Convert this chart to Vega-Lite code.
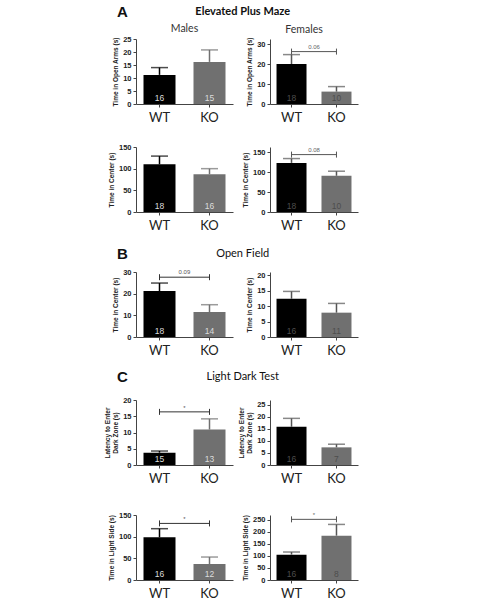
{
  "$schema": "https://vega.github.io/schema/vega-lite/v6.json",
  "padding": {"left": 5, "top": 5, "right": 5, "bottom": 2},
  "background": "white",
  "title": {"text": "Fig. 5 (See legend on next page.)", "orient": "bottom", "anchor": "start", "frame": "group", "dx": -131, "offset": 20, "fontSize": 7, "font": "Lato", "color": "#777", "fontWeight": "normal"},
  "columns": 2,
  "bounds": "flush",
  "spacing": {"row": 10, "column": 37},
  "concat": [
    {
      "width": 97, "height": 17,
      "data": {"values": [{"letter": "A", "name": "Elevated Plus Maze"}]},
      "layer": [
        {"mark": {"type": "text", "font": "Liberation Sans", "fontSize": 15, "fontWeight": "bold", "color": "#111", "baseline": "middle"},
         "encoding": {"x": {"datum": -0.14, "type": "quantitative", "scale": {"domain": [0, 1]}, "axis": null}, "y": {"datum": 1, "type": "quantitative", "scale": {"domain": [0, 1]}, "axis": null}, "text": {"field": "letter"}}},
        {"mark": {"type": "text", "font": "Lato", "fontSize": 11, "fontWeight": "bold", "color": "#111", "baseline": "middle"},
         "encoding": {"x": {"datum": 1.1, "type": "quantitative", "axis": null}, "y": {"datum": 1, "type": "quantitative", "axis": null}, "text": {"field": "name"}}}
      ]
    },
    {"width": 88, "height": 1, "data": {"values": []}, "mark": "point"},
    {
      "width": 97, "height": 65, "title": {"text": "Males"},
      "data": {"values": [{"g": "WT", "mean": 11.2, "upper": 14.0, "n": "16"}, {"g": "KO", "mean": 16.2, "upper": 20.8, "n": "15"}]},
      "encoding": {"x": {"field": "g", "type": "nominal", "sort": ["WT", "KO"], "scale": {"paddingInner": 0.36, "paddingOuter": 0.15}, "axis": {"title": null, "labelAngle": 0}}},
      "layer": [
        {"mark": {"type": "bar"}, "encoding": {"y": {"field": "mean", "type": "quantitative", "scale": {"domain": [0, 25], "nice": false}, "axis": {"title": "Time in Open Arms (s)", "values": [0, 5, 10, 15, 20, 25], "tickCount": 6}}, "color": {"field": "g", "type": "nominal", "scale": {"domain": ["WT", "KO"], "range": ["#000000", "#707070"]}, "legend": null}}},
        {"mark": {"type": "rule", "strokeWidth": 1.5}, "encoding": {"y": {"field": "mean", "type": "quantitative"}, "y2": {"field": "upper"}, "color": {"field": "g", "type": "nominal", "legend": null}}},
        {"mark": {"type": "tick", "thickness": 1.5, "size": 17}, "encoding": {"y": {"field": "upper", "type": "quantitative"}, "color": {"field": "g", "type": "nominal", "legend": null}}},
        {"mark": {"type": "text", "baseline": "bottom", "dy": -1.5, "fontSize": 8.5, "font": "Liberation Sans", "color": "#dcdcdc"}, "encoding": {"y": {"datum": 0, "type": "quantitative"}, "text": {"field": "n"}}}
      ]
    },
    {
      "width": 88, "height": 65, "title": {"text": "Females", "dx": -10},
      "data": {"values": [{"g": "WT", "mean": 20.0, "upper": 24.7, "n": "18"}, {"g": "KO", "mean": 6.2, "upper": 8.7, "n": "10"}]},
      "encoding": {"x": {"field": "g", "type": "nominal", "sort": ["WT", "KO"], "scale": {"paddingInner": 0.333, "paddingOuter": 0.145}, "axis": {"title": null, "labelAngle": 0}}},
      "layer": [
        {"mark": {"type": "bar"}, "encoding": {"y": {"field": "mean", "type": "quantitative", "scale": {"domain": [0, 32.5], "nice": false}, "axis": {"title": "Time in Open Arms (s)", "values": [0, 10, 20, 30], "tickCount": 4}}, "color": {"field": "g", "type": "nominal", "scale": {"domain": ["WT", "KO"], "range": ["#c8c8c8", "#8c8c8c"]}, "legend": null}}},
        {"mark": {"type": "rule", "strokeWidth": 1.5, "color": "#555"}, "encoding": {"y": {"field": "mean", "type": "quantitative"}, "y2": {"field": "upper"}}},
        {"mark": {"type": "tick", "thickness": 1.5, "size": 17, "color": "#555"}, "encoding": {"y": {"field": "upper", "type": "quantitative"}}},
        {"mark": {"type": "text", "baseline": "bottom", "dy": -1.5, "fontSize": 8.5, "font": "Liberation Sans", "color": "#4d4d4d"}, "encoding": {"y": {"datum": 0, "type": "quantitative"}, "text": {"field": "n"}}},
        {"data": {"values": [{"g": "WT", "level": 26.2}, {"g": "KO", "level": 26.2}]}, "mark": {"type": "line", "color": "#555", "strokeWidth": 1}, "encoding": {"y": {"field": "level", "type": "quantitative"}}},
        {"data": {"values": [{"g": "WT", "level": 26.2}, {"g": "KO", "level": 26.2}]}, "mark": {"type": "point", "shape": "M0,-1L0,1", "size": 36, "filled": false, "color": "#555", "strokeWidth": 1, "opacity": 1}, "encoding": {"y": {"field": "level", "type": "quantitative"}}},
        {"data": {"values": [{"g": "WT", "level": 26.2, "label": "0.06"}]}, "mark": {"type": "text", "fontSize": 6, "font": "Liberation Sans", "color": "#666", "baseline": "bottom", "dy": -2}, "encoding": {"x": {"field": "g", "type": "nominal", "bandPosition": 1.25}, "y": {"field": "level", "type": "quantitative"}, "text": {"field": "label"}}}
      ]
    },
    {"width": 97, "height": 23, "data": {"values": []}, "mark": "point"},
    {"width": 88, "height": 1, "data": {"values": []}, "mark": "point"},
    {
      "width": 97, "height": 65,
      "data": {"values": [{"g": "WT", "mean": 110, "upper": 129, "n": "18"}, {"g": "KO", "mean": 87, "upper": 100, "n": "16"}]},
      "encoding": {"x": {"field": "g", "type": "nominal", "sort": ["WT", "KO"], "scale": {"paddingInner": 0.36, "paddingOuter": 0.15}, "axis": {"title": null, "labelAngle": 0}}},
      "layer": [
        {"mark": {"type": "bar"}, "encoding": {"y": {"field": "mean", "type": "quantitative", "scale": {"domain": [0, 150], "nice": false}, "axis": {"title": "Time in Center  (s)", "values": [0, 50, 100, 150], "tickCount": 4}}, "color": {"field": "g", "type": "nominal", "scale": {"domain": ["WT", "KO"], "range": ["#000000", "#707070"]}, "legend": null}}},
        {"mark": {"type": "rule", "strokeWidth": 1.5}, "encoding": {"y": {"field": "mean", "type": "quantitative"}, "y2": {"field": "upper"}, "color": {"field": "g", "type": "nominal", "legend": null}}},
        {"mark": {"type": "tick", "thickness": 1.5, "size": 17}, "encoding": {"y": {"field": "upper", "type": "quantitative"}, "color": {"field": "g", "type": "nominal", "legend": null}}},
        {"mark": {"type": "text", "baseline": "bottom", "dy": -1.5, "fontSize": 8.5, "font": "Liberation Sans", "color": "#dcdcdc"}, "encoding": {"y": {"datum": 0, "type": "quantitative"}, "text": {"field": "n"}}}
      ]
    },
    {
      "width": 88, "height": 65,
      "data": {"values": [{"g": "WT", "mean": 122.8, "upper": 133.6, "n": "18"}, {"g": "KO", "mean": 90.6, "upper": 102, "n": "10"}]},
      "encoding": {"x": {"field": "g", "type": "nominal", "sort": ["WT", "KO"], "scale": {"paddingInner": 0.333, "paddingOuter": 0.145}, "axis": {"title": null, "labelAngle": 0}}},
      "layer": [
        {"mark": {"type": "bar"}, "encoding": {"y": {"field": "mean", "type": "quantitative", "scale": {"domain": [0, 162.5], "nice": false}, "axis": {"title": "Time in Center  (s)", "values": [0, 50, 100, 150], "tickCount": 4}}, "color": {"field": "g", "type": "nominal", "scale": {"domain": ["WT", "KO"], "range": ["#c8c8c8", "#8c8c8c"]}, "legend": null}}},
        {"mark": {"type": "rule", "strokeWidth": 1.5, "color": "#555"}, "encoding": {"y": {"field": "mean", "type": "quantitative"}, "y2": {"field": "upper"}}},
        {"mark": {"type": "tick", "thickness": 1.5, "size": 17, "color": "#555"}, "encoding": {"y": {"field": "upper", "type": "quantitative"}}},
        {"mark": {"type": "text", "baseline": "bottom", "dy": -1.5, "fontSize": 8.5, "font": "Liberation Sans", "color": "#4d4d4d"}, "encoding": {"y": {"datum": 0, "type": "quantitative"}, "text": {"field": "n"}}},
        {"data": {"values": [{"g": "WT", "level": 143.5}, {"g": "KO", "level": 143.5}]}, "mark": {"type": "line", "color": "#555", "strokeWidth": 1}, "encoding": {"y": {"field": "level", "type": "quantitative"}}},
        {"data": {"values": [{"g": "WT", "level": 143.5}, {"g": "KO", "level": 143.5}]}, "mark": {"type": "point", "shape": "M0,-1L0,1", "size": 36, "filled": false, "color": "#555", "strokeWidth": 1, "opacity": 1}, "encoding": {"y": {"field": "level", "type": "quantitative"}}},
        {"data": {"values": [{"g": "WT", "level": 143.5, "label": "0.08"}]}, "mark": {"type": "text", "fontSize": 6, "font": "Liberation Sans", "color": "#666", "baseline": "bottom", "dy": -2}, "encoding": {"x": {"field": "g", "type": "nominal", "bandPosition": 1.25}, "y": {"field": "level", "type": "quantitative"}, "text": {"field": "label"}}}
      ]
    },
    {
      "width": 97, "height": 40,
      "data": {"values": [{"letter": "B", "name": "Open Field"}]},
      "layer": [
        {"mark": {"type": "text", "font": "Liberation Sans", "fontSize": 15, "fontWeight": "bold", "color": "#111", "baseline": "middle"},
         "encoding": {"x": {"datum": -0.14, "type": "quantitative", "scale": {"domain": [0, 1]}, "axis": null}, "y": {"datum": 0.2125, "type": "quantitative", "scale": {"domain": [0, 1]}, "axis": null}, "text": {"field": "letter"}}},
        {"mark": {"type": "text", "font": "Lato", "fontSize": 11, "fontWeight": "normal", "color": "#111", "baseline": "middle"},
         "encoding": {"x": {"datum": 1.1, "type": "quantitative", "axis": null}, "y": {"datum": 0.2125, "type": "quantitative", "axis": null}, "text": {"field": "name"}}}
      ]
    },
    {"width": 88, "height": 1, "data": {"values": []}, "mark": "point"},
    {
      "width": 97, "height": 65,
      "data": {"values": [{"g": "WT", "mean": 21.2, "upper": 24.9, "n": "18"}, {"g": "KO", "mean": 11.5, "upper": 14.9, "n": "14"}]},
      "encoding": {"x": {"field": "g", "type": "nominal", "sort": ["WT", "KO"], "scale": {"paddingInner": 0.36, "paddingOuter": 0.15}, "axis": {"title": null, "labelAngle": 0}}},
      "layer": [
        {"mark": {"type": "bar"}, "encoding": {"y": {"field": "mean", "type": "quantitative", "scale": {"domain": [0, 30], "nice": false}, "axis": {"title": "Time in Center  (s)", "values": [0, 10, 20, 30], "tickCount": 4}}, "color": {"field": "g", "type": "nominal", "scale": {"domain": ["WT", "KO"], "range": ["#000000", "#6c6c6c"]}, "legend": null}}},
        {"mark": {"type": "rule", "strokeWidth": 1.5}, "encoding": {"y": {"field": "mean", "type": "quantitative"}, "y2": {"field": "upper"}, "color": {"field": "g", "type": "nominal", "legend": null}}},
        {"mark": {"type": "tick", "thickness": 1.5, "size": 17}, "encoding": {"y": {"field": "upper", "type": "quantitative"}, "color": {"field": "g", "type": "nominal", "legend": null}}},
        {"mark": {"type": "text", "baseline": "bottom", "dy": -1.5, "fontSize": 8.5, "font": "Liberation Sans", "color": "#dcdcdc"}, "encoding": {"y": {"datum": 0, "type": "quantitative"}, "text": {"field": "n"}}},
        {"data": {"values": [{"g": "WT", "level": 27.6}, {"g": "KO", "level": 27.6}]}, "mark": {"type": "line", "color": "#333", "strokeWidth": 1}, "encoding": {"y": {"field": "level", "type": "quantitative"}}},
        {"data": {"values": [{"g": "WT", "level": 27.6}, {"g": "KO", "level": 27.6}]}, "mark": {"type": "point", "shape": "M0,-1L0,1", "size": 36, "filled": false, "color": "#333", "strokeWidth": 1, "opacity": 1}, "encoding": {"y": {"field": "level", "type": "quantitative"}}},
        {"data": {"values": [{"g": "WT", "level": 27.6, "label": "0.09"}]}, "mark": {"type": "text", "fontSize": 6, "font": "Liberation Sans", "color": "#555", "baseline": "bottom", "dy": -2}, "encoding": {"x": {"field": "g", "type": "nominal", "bandPosition": 1.28}, "y": {"field": "level", "type": "quantitative"}, "text": {"field": "label"}}}
      ]
    },
    {
      "width": 88, "height": 65,
      "data": {"values": [{"g": "WT", "mean": 12.4, "upper": 14.8, "n": "16"}, {"g": "KO", "mean": 7.9, "upper": 10.9, "n": "11"}]},
      "encoding": {"x": {"field": "g", "type": "nominal", "sort": ["WT", "KO"], "scale": {"paddingInner": 0.333, "paddingOuter": 0.145}, "axis": {"title": null, "labelAngle": 0}}},
      "layer": [
        {"mark": {"type": "bar"}, "encoding": {"y": {"field": "mean", "type": "quantitative", "scale": {"domain": [0, 21.1], "nice": false}, "axis": {"title": "Time in Center  (s)", "values": [0, 5, 10, 15, 20], "tickCount": 5}}, "color": {"field": "g", "type": "nominal", "scale": {"domain": ["WT", "KO"], "range": ["#c8c8c8", "#8c8c8c"]}, "legend": null}}},
        {"mark": {"type": "rule", "strokeWidth": 1.5, "color": "#555"}, "encoding": {"y": {"field": "mean", "type": "quantitative"}, "y2": {"field": "upper"}}},
        {"mark": {"type": "tick", "thickness": 1.5, "size": 17, "color": "#555"}, "encoding": {"y": {"field": "upper", "type": "quantitative"}}},
        {"mark": {"type": "text", "baseline": "bottom", "dy": -1.5, "fontSize": 8.5, "font": "Liberation Sans", "color": "#4d4d4d"}, "encoding": {"y": {"datum": 0, "type": "quantitative"}, "text": {"field": "n"}}}
      ]
    },
    {
      "width": 97, "height": 43,
      "data": {"values": [{"letter": "C", "name": "Light Dark Test"}]},
      "layer": [
        {"mark": {"type": "text", "font": "Liberation Sans", "fontSize": 15, "fontWeight": "bold", "color": "#111", "baseline": "middle"},
         "encoding": {"x": {"datum": -0.14, "type": "quantitative", "scale": {"domain": [0, 1]}, "axis": null}, "y": {"datum": 0.302, "type": "quantitative", "scale": {"domain": [0, 1]}, "axis": null}, "text": {"field": "letter"}}},
        {"mark": {"type": "text", "font": "Lato", "fontSize": 11, "fontWeight": "normal", "color": "#111", "baseline": "middle"},
         "encoding": {"x": {"datum": 1.1, "type": "quantitative", "axis": null}, "y": {"datum": 0.302, "type": "quantitative", "axis": null}, "text": {"field": "name"}}}
      ]
    },
    {"width": 88, "height": 1, "data": {"values": []}, "mark": "point"},
    {
      "width": 97, "height": 65,
      "data": {"values": [{"g": "WT", "mean": 3.8, "upper": 4.3, "n": "15"}, {"g": "KO", "mean": 10.9, "upper": 14.2, "n": "13"}]},
      "encoding": {"x": {"field": "g", "type": "nominal", "sort": ["WT", "KO"], "scale": {"paddingInner": 0.36, "paddingOuter": 0.15}, "axis": {"title": null, "labelAngle": 0}}},
      "layer": [
        {"mark": {"type": "bar"}, "encoding": {"y": {"field": "mean", "type": "quantitative", "scale": {"domain": [0, 20], "nice": false}, "axis": {"title": ["Latency to Enter", "Dark Zone (s)"], "titleLineHeight": 8, "values": [0, 5, 10, 15, 20], "tickCount": 5}}, "color": {"field": "g", "type": "nominal", "scale": {"domain": ["WT", "KO"], "range": ["#000000", "#707070"]}, "legend": null}}},
        {"mark": {"type": "rule", "strokeWidth": 1.5}, "encoding": {"y": {"field": "mean", "type": "quantitative"}, "y2": {"field": "upper"}, "color": {"field": "g", "type": "nominal", "legend": null}}},
        {"mark": {"type": "tick", "thickness": 1.5, "size": 17}, "encoding": {"y": {"field": "upper", "type": "quantitative"}, "color": {"field": "g", "type": "nominal", "legend": null}}},
        {"mark": {"type": "text", "baseline": "bottom", "dy": -1.5, "fontSize": 8.5, "font": "Liberation Sans", "color": "#dcdcdc"}, "encoding": {"y": {"datum": 0, "type": "quantitative"}, "text": {"field": "n"}}},
        {"data": {"values": [{"g": "WT", "level": 16.35}, {"g": "KO", "level": 16.35}]}, "mark": {"type": "line", "color": "#333", "strokeWidth": 1}, "encoding": {"y": {"field": "level", "type": "quantitative"}}},
        {"data": {"values": [{"g": "WT", "level": 16.35}, {"g": "KO", "level": 16.35}]}, "mark": {"type": "point", "shape": "M0,-1L0,1", "size": 36, "filled": false, "color": "#333", "strokeWidth": 1, "opacity": 1}, "encoding": {"y": {"field": "level", "type": "quantitative"}}},
        {"data": {"values": [{"g": "WT", "level": 16.35, "label": "*"}]}, "mark": {"type": "text", "fontSize": 6, "font": "Liberation Sans", "color": "#555", "baseline": "bottom", "dy": -1}, "encoding": {"x": {"field": "g", "type": "nominal", "bandPosition": 1.28}, "y": {"field": "level", "type": "quantitative"}, "text": {"field": "label"}}}
      ]
    },
    {
      "width": 88, "height": 65,
      "data": {"values": [{"g": "WT", "mean": 15.8, "upper": 19.3, "n": "16"}, {"g": "KO", "mean": 7.3, "upper": 8.6, "n": "7"}]},
      "encoding": {"x": {"field": "g", "type": "nominal", "sort": ["WT", "KO"], "scale": {"paddingInner": 0.333, "paddingOuter": 0.145}, "axis": {"title": null, "labelAngle": 0}}},
      "layer": [
        {"mark": {"type": "bar"}, "encoding": {"y": {"field": "mean", "type": "quantitative", "scale": {"domain": [0, 26.9], "nice": false}, "axis": {"title": ["Latency to Enter", "Dark Zone (s)"], "titleLineHeight": 8, "values": [0, 5, 10, 15, 20, 25], "tickCount": 6}}, "color": {"field": "g", "type": "nominal", "scale": {"domain": ["WT", "KO"], "range": ["#c8c8c8", "#8c8c8c"]}, "legend": null}}},
        {"mark": {"type": "rule", "strokeWidth": 1.5, "color": "#555"}, "encoding": {"y": {"field": "mean", "type": "quantitative"}, "y2": {"field": "upper"}}},
        {"mark": {"type": "tick", "thickness": 1.5, "size": 17, "color": "#555"}, "encoding": {"y": {"field": "upper", "type": "quantitative"}}},
        {"mark": {"type": "text", "baseline": "bottom", "dy": -1.5, "fontSize": 8.5, "font": "Liberation Sans", "color": "#4d4d4d"}, "encoding": {"y": {"datum": 0, "type": "quantitative"}, "text": {"field": "n"}}}
      ]
    },
    {"width": 97, "height": 30, "data": {"values": []}, "mark": "point"},
    {"width": 88, "height": 1, "data": {"values": []}, "mark": "point"},
    {
      "width": 97, "height": 65,
      "data": {"values": [{"g": "WT", "mean": 98.5, "upper": 118.4, "n": "16"}, {"g": "KO", "mean": 36.9, "upper": 53, "n": "12"}]},
      "encoding": {"x": {"field": "g", "type": "nominal", "sort": ["WT", "KO"], "scale": {"paddingInner": 0.36, "paddingOuter": 0.15}, "axis": {"title": null, "labelAngle": 0}}},
      "layer": [
        {"mark": {"type": "bar"}, "encoding": {"y": {"field": "mean", "type": "quantitative", "scale": {"domain": [0, 150], "nice": false}, "axis": {"title": "Time in Light Side (s)", "values": [0, 50, 100, 150], "tickCount": 4}}, "color": {"field": "g", "type": "nominal", "scale": {"domain": ["WT", "KO"], "range": ["#000000", "#707070"]}, "legend": null}}},
        {"mark": {"type": "rule", "strokeWidth": 1.5}, "encoding": {"y": {"field": "mean", "type": "quantitative"}, "y2": {"field": "upper"}, "color": {"field": "g", "type": "nominal", "legend": null}}},
        {"mark": {"type": "tick", "thickness": 1.5, "size": 17}, "encoding": {"y": {"field": "upper", "type": "quantitative"}, "color": {"field": "g", "type": "nominal", "legend": null}}},
        {"mark": {"type": "text", "baseline": "bottom", "dy": -1.5, "fontSize": 8.5, "font": "Liberation Sans", "color": "#dcdcdc"}, "encoding": {"y": {"datum": 0, "type": "quantitative"}, "text": {"field": "n"}}},
        {"data": {"values": [{"g": "WT", "level": 130.6}, {"g": "KO", "level": 130.6}]}, "mark": {"type": "line", "color": "#333", "strokeWidth": 1}, "encoding": {"y": {"field": "level", "type": "quantitative"}}},
        {"data": {"values": [{"g": "WT", "level": 130.6}, {"g": "KO", "level": 130.6}]}, "mark": {"type": "point", "shape": "M0,-1L0,1", "size": 36, "filled": false, "color": "#333", "strokeWidth": 1, "opacity": 1}, "encoding": {"y": {"field": "level", "type": "quantitative"}}},
        {"data": {"values": [{"g": "WT", "level": 130.6, "label": "*"}]}, "mark": {"type": "text", "fontSize": 6, "font": "Liberation Sans", "color": "#555", "baseline": "bottom", "dy": -1}, "encoding": {"x": {"field": "g", "type": "nominal", "bandPosition": 1.28}, "y": {"field": "level", "type": "quantitative"}, "text": {"field": "label"}}}
      ]
    },
    {
      "width": 88, "height": 65,
      "data": {"values": [{"g": "WT", "mean": 105, "upper": 115.8, "n": "16"}, {"g": "KO", "mean": 183.5, "upper": 230, "n": "8"}]},
      "encoding": {"x": {"field": "g", "type": "nominal", "sort": ["WT", "KO"], "scale": {"paddingInner": 0.333, "paddingOuter": 0.145}, "axis": {"title": null, "labelAngle": 0}}},
      "layer": [
        {"mark": {"type": "bar"}, "encoding": {"y": {"field": "mean", "type": "quantitative", "scale": {"domain": [0, 269], "nice": false}, "axis": {"title": "Time in Light Side (s)", "values": [0, 50, 100, 150, 200, 250], "tickCount": 6}}, "color": {"field": "g", "type": "nominal", "scale": {"domain": ["WT", "KO"], "range": ["#c8c8c8", "#8c8c8c"]}, "legend": null}}},
        {"mark": {"type": "rule", "strokeWidth": 1.5, "color": "#555"}, "encoding": {"y": {"field": "mean", "type": "quantitative"}, "y2": {"field": "upper"}}},
        {"mark": {"type": "tick", "thickness": 1.5, "size": 17, "color": "#555"}, "encoding": {"y": {"field": "upper", "type": "quantitative"}}},
        {"mark": {"type": "text", "baseline": "bottom", "dy": -1.5, "fontSize": 8.5, "font": "Liberation Sans", "color": "#4d4d4d"}, "encoding": {"y": {"datum": 0, "type": "quantitative"}, "text": {"field": "n"}}},
        {"data": {"values": [{"g": "WT", "level": 251}, {"g": "KO", "level": 251}]}, "mark": {"type": "line", "color": "#555", "strokeWidth": 1}, "encoding": {"y": {"field": "level", "type": "quantitative"}}},
        {"data": {"values": [{"g": "WT", "level": 251}, {"g": "KO", "level": 251}]}, "mark": {"type": "point", "shape": "M0,-1L0,1", "size": 36, "filled": false, "color": "#555", "strokeWidth": 1, "opacity": 1}, "encoding": {"y": {"field": "level", "type": "quantitative"}}},
        {"data": {"values": [{"g": "WT", "level": 251, "label": "*"}]}, "mark": {"type": "text", "fontSize": 6, "font": "Liberation Sans", "color": "#666", "baseline": "bottom", "dy": -1}, "encoding": {"x": {"field": "g", "type": "nominal", "bandPosition": 1.25}, "y": {"field": "level", "type": "quantitative"}, "text": {"field": "label"}}}
      ]
    }
  ],
  "config": {
    "view": {"stroke": null},
    "axis": {"grid": false, "domainColor": "#444", "tickColor": "#444", "labelColor": "#222", "titleColor": "#222", "domainWidth": 1, "tickWidth": 1},
    "axisX": {"labelFont": "Lato", "labelFontSize": 13, "labelFontWeight": "normal", "labelPadding": 4, "tickSize": 3, "labelAngle": 0},
    "axisY": {"labelFont": "Liberation Sans", "labelFontSize": 7.5, "labelFontWeight": "bold", "tickSize": 3, "labelPadding": 2, "labelOverlap": false, "titleFont": "Liberation Sans", "titleFontSize": 6.5, "titleFontWeight": "bold", "titlePadding": 4},
    "title": {"font": "Lato", "fontSize": 10.5, "fontWeight": "normal", "color": "#333", "offset": 1}
  }
}
